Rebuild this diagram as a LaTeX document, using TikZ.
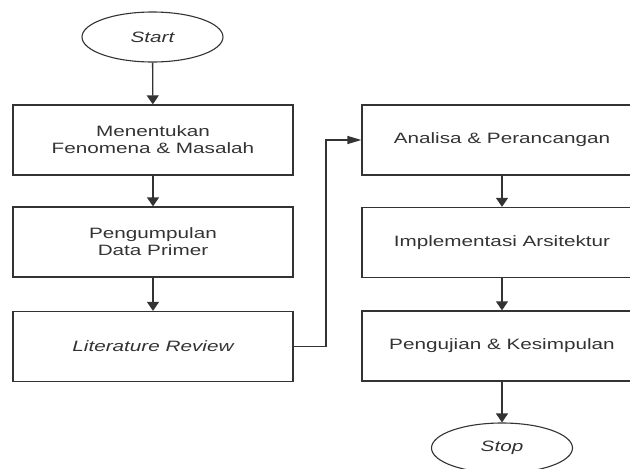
\documentclass[tikz,border=0pt]{standalone}
\usepackage{fontspec}
\setmainfont{Liberation Sans}[FakeStretch=1.38]
\usetikzlibrary{shapes.geometric,arrows.meta}
\definecolor{linegray}{HTML}{333333}
\tikzset{
  stepbox/.style={rectangle, draw=linegray, line width=1.3pt, minimum width=280pt, minimum height=70pt, align=center, text=linegray, inner sep=0pt, font=\fontsize{15}{17}\selectfont},
  terminal/.style={ellipse, draw=linegray, line width=1.1pt, minimum width=141pt, minimum height=50pt, inner sep=0pt, text=linegray, font=\fontsize{15}{17}\selectfont\itshape},
  vflow/.style={draw=linegray, line width=1.3pt, -{Triangle[width=12pt,length=9pt]}},
  hflow/.style={draw=linegray, line width=1.3pt, -{Triangle[width=8pt,length=14pt]}}
}
\begin{document}
\begin{tikzpicture}[x=1pt, y=-1pt]
  \clip (0,0) rectangle (630,469);
  % Nodes
  \node (start) [terminal] at (152.5, 37) {Start};
  \node (fenomena) [stepbox] at (153, 140) {Menentukan\\Fenomena \& Masalah};
  \node (data) [stepbox] at (153, 242) {Pengumpulan\\Data Primer};
  \node (review) [stepbox] at (153, 346.5) {\itshape Literature Review};
  \node (analisa) [stepbox] at (502, 140) {Analisa \& Perancangan};
  \node (implementasi) [stepbox] at (502, 242.5) {Implementasi Arsitektur};
  \node (pengujian) [stepbox] at (502, 346) {Pengujian \& Kesimpulan};
  \node (stop) [terminal] at (502, 448) {Stop};
  \coordinate (turn) at (326, 346.5);
  % Arrows
  \draw[vflow] (start) -- (fenomena);
  \draw[vflow] (fenomena) -- (data);
  \draw[vflow] (data) -- (review);
  \draw[hflow] (review.east) -- (turn) |- (analisa.west);
  \draw[vflow] (analisa) -- (implementasi);
  \draw[vflow] (implementasi) -- (pengujian);
  \draw[vflow] (pengujian) -- (stop);
\end{tikzpicture}
\end{document}
